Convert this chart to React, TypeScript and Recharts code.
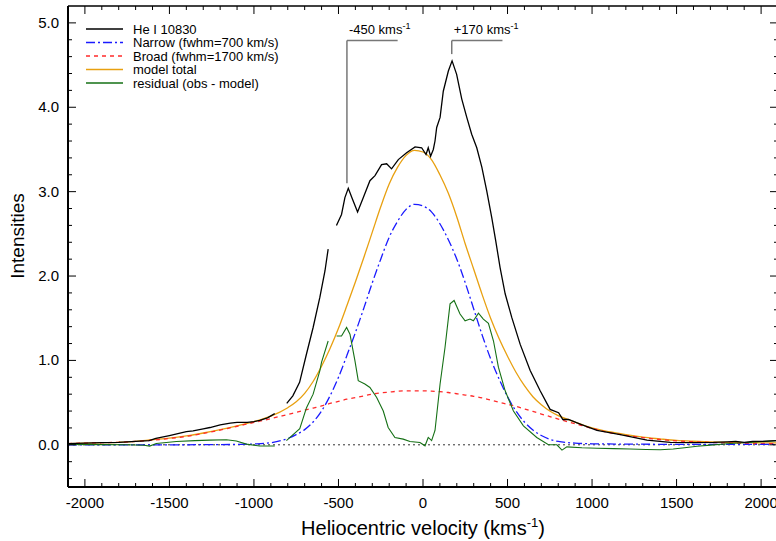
import { LineChart, Line, XAxis, YAxis, ReferenceLine } from 'recharts';

const FONT = '"Liberation Sans", Arial, Helvetica, sans-serif';

// velocity grid (km/s) for the fitted components
const modelV = [
  -2100, -2000, -1900, -1800, -1700, -1600, -1500, -1400, -1300, -1200, -1100, -1000, -900, -800,
  -750, -700, -650, -600, -550, -500, -450, -400, -350, -300, -250, -200, -150, -100, -50, 0,
  50, 100, 150, 200, 250, 300, 350, 400, 450, 500, 550, 600, 650, 700, 750, 800,
  900, 1000, 1100, 1200, 1300, 1400, 1500, 1600, 1700, 1800, 1900, 2000, 2100,
];
const narrowI = [
  0, 0, 0, 0, 0, 0, 0, 0, 0.002, 0.003, 0.005, 0.01, 0.025, 0.075,
  0.12, 0.18, 0.27, 0.4, 0.58, 0.8, 1.06, 1.33, 1.62, 1.92, 2.2, 2.46, 2.65, 2.79, 2.85, 2.83,
  2.76, 2.62, 2.43, 2.2, 1.92, 1.61, 1.3, 1.02, 0.78, 0.57, 0.4, 0.27, 0.175, 0.11, 0.065, 0.04,
  0.02, 0.012, 0.01, 0.008, 0.007, 0.006, 0.005, 0.005, 0.005, 0.005, 0.005, 0.005, 0.005,
];
const broadI = [
  0.015, 0.02, 0.025, 0.03, 0.04, 0.055, 0.075, 0.1, 0.135, 0.175, 0.22, 0.265, 0.31, 0.36,
  0.385, 0.41, 0.435, 0.46, 0.49, 0.515, 0.54, 0.56, 0.58, 0.6, 0.615, 0.625, 0.635, 0.64, 0.64, 0.64,
  0.635, 0.63, 0.62, 0.605, 0.59, 0.575, 0.555, 0.53, 0.505, 0.48, 0.455, 0.425, 0.395, 0.365, 0.335, 0.305,
  0.25, 0.195, 0.145, 0.112, 0.085, 0.063, 0.047, 0.036, 0.028, 0.022, 0.018, 0.015, 0.013,
];
const totalI = [
  0.015, 0.02, 0.025, 0.03, 0.04, 0.06, 0.078, 0.105, 0.14, 0.18, 0.225, 0.275, 0.34, 0.44,
  0.51, 0.61, 0.75, 0.93, 1.14, 1.38, 1.65, 1.93, 2.22, 2.52, 2.82, 3.09, 3.29, 3.43, 3.49, 3.47,
  3.38, 3.2, 2.98, 2.7, 2.38, 2.08, 1.78, 1.5, 1.26, 1.05, 0.86, 0.7, 0.57, 0.475, 0.4, 0.345,
  0.27, 0.2, 0.155, 0.12, 0.09, 0.07, 0.052, 0.042, 0.035, 0.03, 0.026, 0.024, 0.022,
];

// observed He I 10830 profile (null = gap in the spectrum)
const obsV = [
  -2100, -2000, -1900, -1800, -1700, -1620, -1580, -1500, -1400, -1360, -1300, -1260, -1200, -1140,
  -1100, -1040, -1000, -966, -920, -877, -840, -806, -770, -730, -690, -650, -610, -580, -561, -535,
  -512, -482, -462, -442, -417, -387, -353, -314, -284, -245, -215, -186, -146, -97, -47, -8,
  18, 31, 45, 61, 71, 81, 101, 120, 150, 172, 199, 229, 259, 288, 318, 348, 377, 407, 430,
  456, 486, 525, 575, 634, 693, 752, 802, 815, 827, 861, 930, 1029, 1167, 1325, 1463, 1600,
  1718, 1800, 1850, 1900, 1950, 2000, 2100,
];
const obsI = [
  0.015, 0.02, 0.025, 0.03, 0.04, 0.05, 0.075, 0.11, 0.155, 0.165, 0.19, 0.205, 0.235, 0.257,
  0.265, 0.266, 0.275, 0.29, 0.32, 0.37, null, 0.49, 0.58, 0.74, 1.07, 1.39, 1.75, 2.06, 2.32, null,
  2.6, 2.73, 2.93, 3.04, 2.91, 2.76, 2.93, 3.13, 3.19, 3.32, 3.33, 3.27, 3.38, 3.46, 3.53, 3.52,
  3.44, 3.52, 3.42, 3.5, 3.6, 3.76, 3.88, 4.19, 4.43, 4.55, 4.39, 4.1, 3.88, 3.68, 3.52, 3.29, 3.01, 2.69, 2.42,
  2.1, 1.79, 1.51, 1.19, 0.88, 0.64, 0.42, 0.38, 0.34, 0.3, 0.3, 0.245, 0.17, 0.12, 0.055, 0.03, 0.025,
  0.028, 0.035, 0.04, 0.03, 0.04, 0.04, 0.05,
];

// residual (obs - model)
const resV = [
  -2100, -1900, -1755, -1650, -1617, -1578, -1459, -1350, -1262, -1163, -1104, -1045, -966, -877,
  -840, -808, -729, -689, -650, -610, -600, -561, -535, -511, -482, -452, -432, -403, -383, -344,
  -314, -274, -235, -206, -166, -117, -77, -18, 12, 31, 51, 71, 101, 130, 160, 184, 219, 249,
  278, 298, 328, 357, 387, 417, 446, 486, 535, 594, 673, 742, 792, 822, 851, 940, 1029, 1130, 1226,
  1320, 1404, 1480, 1560, 1621, 1700, 1819, 1950, 2100,
];
const resI = [
  0.005, 0.002, 0, -0.005, -0.015, 0.015, 0.04, 0.05, 0.055, 0.06, 0.045, 0.008, -0.015, -0.015,
  null, 0.05, 0.19, 0.44, 0.6, 0.88, 0.98, 1.23, null, 1.29, 1.29, 1.39, 1.31, 1.0, 0.76, 0.72,
  0.68, 0.56, 0.4, 0.205, 0.087, 0.067, 0.04, 0.028, -0.012, 0.087, 0.05, 0.17, 0.72, 1.15, 1.67, 1.71, 1.55, 1.47,
  1.49, 1.47, 1.56, 1.49, 1.44, 1.23, 0.92, 0.64, 0.4, 0.225, 0.087, 0, 0, -0.063, -0.024, -0.035, -0.04, -0.045, -0.05,
  -0.056, -0.058, -0.05, -0.032, -0.018, -0.004, 0.015, 0.03, 0.05,
];

const xMajor = [-2000, -1500, -1000, -500, 0, 500, 1000, 1500, 2000];
const yMajor = [0, 1, 2, 3, 4, 5];
const xTicks = Array.from({ length: 41 }, (_, i) => -2000 + i * 100);
const yTicks = Array.from({ length: 28 }, (_, i) => Math.round((-0.4 + i * 0.2) * 10) / 10);

const rows = (vs: number[], ys: (number | null)[]) => vs.map((v, i) => ({ v, y: ys[i] }));
const narrowData = rows(modelV, narrowI);
const broadData = rows(modelV, broadI);
const totalData = rows(modelV, totalI);
const obsData = rows(obsV, obsI);
const resData = rows(resV, resI);

const BottomTick = ({ x, y, payload }: any) => {
  const major = xMajor.includes(payload.value);
  return (
    <g>
      <line x1={x} x2={x} y1={y} y2={y - (major ? 8 : 4)} stroke="#000" />
      {major && (
        <text x={x} y={y + 21} textAnchor="middle" fontSize={15} fontFamily={FONT} fill="#000">
          {payload.value}
        </text>
      )}
    </g>
  );
};

const TopTick = ({ x, y, payload }: any) => {
  const major = xMajor.includes(payload.value);
  return <line x1={x} x2={x} y1={y} y2={y + (major ? 8 : 4)} stroke="#000" />;
};

const LeftTick = ({ x, y, payload }: any) => {
  const major = yMajor.includes(payload.value);
  return (
    <g>
      <line x1={x} x2={x + (major ? 8 : 4)} y1={y} y2={y} stroke="#000" />
      {major && (
        <text x={x - 9} y={y + 5} textAnchor="end" fontSize={15} fontFamily={FONT} fill="#000">
          {payload.value.toFixed(1)}
        </text>
      )}
    </g>
  );
};

const RightTick = ({ x, y, payload }: any) => {
  const major = yMajor.includes(payload.value);
  return <line x1={x} x2={x - (major ? 8 : 4)} y1={y} y2={y} stroke="#000" />;
};

const annoLabel = (text: string) => (props: any) => {
  const vb = props.viewBox || {};
  return (
    <text x={vb.x + 2} y={vb.y - 7} fontSize={13} fontFamily={FONT} fill="#000">
      {text} kms<tspan dy={-5} fontSize={9}>-1</tspan>
    </text>
  );
};

const legendItems = [
  { name: 'He I 10830', color: '#000', dash: undefined },
  { name: 'Narrow (fwhm=700 km/s)', color: '#1a1aff', dash: '9 3 2 3' },
  { name: 'Broad (fwhm=1700 km/s)', color: '#ff2a2a', dash: '4 4' },
  { name: 'model total', color: '#e8a010', dash: undefined },
  { name: 'residual (obs - model)', color: '#157015', dash: undefined },
];

const App = () => {
  return (
    <div style={{ position: 'absolute', left: 0, top: 0, width: 776, height: 541, overflow: 'hidden', background: '#fff' }}>
      <LineChart width={780} height={541} margin={{ top: 5, right: 0, bottom: 0, left: 0 }}>
        <XAxis
          xAxisId={0}
          dataKey="v"
          type="number"
          domain={[-2100, 2100]}
          ticks={xTicks}
          interval={0}
          height={54}
          tickSize={0}
          tickMargin={0}
          tick={<BottomTick />}
          axisLine={{ stroke: '#000', strokeWidth: 2 }}
          allowDataOverflow
        />
        <XAxis
          xAxisId="top"
          orientation="top"
          dataKey="v"
          type="number"
          domain={[-2100, 2100]}
          ticks={xTicks}
          interval={0}
          height={1}
          tickSize={0}
          tickMargin={0}
          tick={<TopTick />}
          axisLine={{ stroke: '#000', strokeWidth: 1.5 }}
          allowDataOverflow
        />
        <YAxis
          yAxisId={0}
          type="number"
          domain={[-0.5, 5.2]}
          ticks={yTicks}
          interval={0}
          width={68}
          tickSize={0}
          tickMargin={0}
          tick={<LeftTick />}
          axisLine={{ stroke: '#000', strokeWidth: 2 }}
          allowDataOverflow
        />
        <YAxis
          yAxisId="right"
          orientation="right"
          type="number"
          domain={[-0.5, 5.2]}
          ticks={yTicks}
          interval={0}
          width={2}
          tickSize={0}
          tickMargin={0}
          tick={<RightTick />}
          axisLine={{ stroke: '#000', strokeWidth: 1.5 }}
          allowDataOverflow
        />
        <ReferenceLine y={0} stroke="#333" strokeDasharray="2 3" strokeWidth={1} />
        <Line data={totalData} dataKey="y" type="monotone" stroke="#e8a010" strokeWidth={1.3} dot={false} isAnimationActive={false} />
        <Line data={broadData} dataKey="y" type="monotone" stroke="#ff2a2a" strokeWidth={1.3} strokeDasharray="4 4" dot={false} isAnimationActive={false} />
        <Line data={narrowData} dataKey="y" type="monotone" stroke="#1a1aff" strokeWidth={1.3} strokeDasharray="9 3 2 3" dot={false} isAnimationActive={false} />
        <Line data={resData} dataKey="y" type="linear" stroke="#157015" strokeWidth={1.1} dot={false} isAnimationActive={false} />
        <Line data={obsData} dataKey="y" type="linear" stroke="#000" strokeWidth={1.3} dot={false} isAnimationActive={false} />
        <ReferenceLine segment={[{ x: -450, y: 3.1 }, { x: -450, y: 4.79 }]} stroke="#777" strokeWidth={1.5} />
        <ReferenceLine segment={[{ x: -450, y: 4.79 }, { x: -150, y: 4.79 }]} stroke="#777" strokeWidth={1.5} label={annoLabel('-450')} />
        <ReferenceLine segment={[{ x: 170, y: 4.63 }, { x: 170, y: 4.79 }]} stroke="#777" strokeWidth={1.5} />
        <ReferenceLine segment={[{ x: 170, y: 4.79 }, { x: 470, y: 4.79 }]} stroke="#777" strokeWidth={1.5} label={annoLabel('+170')} />
      </LineChart>
      <svg width={776} height={541} style={{ position: 'absolute', left: 0, top: 0, pointerEvents: 'none' }}>
        {legendItems.map((it, i) => (
          <g key={it.name}>
            <line x1={86} x2={123} y1={29 + i * 13.5} y2={29 + i * 13.5} stroke={it.color} strokeWidth={1.3} strokeDasharray={it.dash} />
            <text x={133} y={33.5 + i * 13.5} fontSize={13} fontFamily={FONT} fill="#000">{it.name}</text>
          </g>
        ))}
        <text x={423} y={535} textAnchor="middle" fontSize={20} fontFamily={FONT} fill="#000">
          Heliocentric velocity (kms<tspan dy={-8} fontSize={13}>-1</tspan><tspan dy={8}>)</tspan>
        </text>
        <text x={0} y={0} transform="translate(24 236) rotate(-90)" textAnchor="middle" fontSize={19} fontFamily={FONT} fill="#000">
          Intensities
        </text>
      </svg>
    </div>
  );
};

export default App;
